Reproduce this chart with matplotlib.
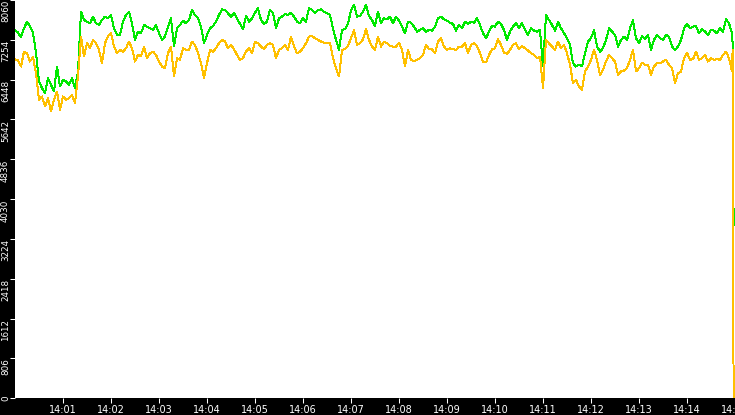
import matplotlib
matplotlib.use('Agg')
import matplotlib.pyplot as plt
import numpy as np
import pandas as pd

# values, one sample every 3.75 s from 14:00:00
green_vals = [
    7454, 7400, 7306, 7488, 7623, 7522, 7400, 6983, 6411, 6277,
    6176, 6478, 6344, 6209, 6714, 6310, 6445, 6411, 6344, 6478,
    6277, 6613, 7824, 7656, 7623, 7589, 7724, 7589, 7555, 7656,
    7724, 7690, 7757, 7488, 7353, 7353, 7623, 7757, 7824, 7589,
    7252, 7421, 7387, 7555, 7522, 7488, 7454, 7555, 7387, 7252,
    7320, 7522, 7690, 7118, 7488, 7555, 7643, 7589, 7656, 7858,
    7757, 7690, 7522, 7185, 7353, 7488, 7535, 7623, 7757, 7872,
    7858, 7791, 7724, 7791, 7690, 7575, 7468, 7737, 7623, 7690,
    7804, 7892, 7656, 7575, 7623, 7858, 7791, 7488, 7690, 7724,
    7777, 7757, 7804, 7724, 7623, 7589, 7690, 7623, 7892, 7858,
    7791, 7858, 7872, 7824, 7791, 7757, 7488, 7252, 7050, 7454,
    7468, 7575, 7858, 7959, 7724, 7737, 7824, 7959, 7737, 7656,
    7535, 7824, 7589, 7690, 7670, 7724, 7589, 7724, 7643, 7522,
    7387, 7623, 7602, 7522, 7421, 7454, 7488, 7421, 7454, 7441,
    7522, 7690, 7724, 7670, 7643, 7602, 7575, 7441, 7555, 7488,
    7623, 7575, 7623, 7602, 7690, 7555, 7387, 7286, 7421, 7535,
    7522, 7623, 7575, 7454, 7252, 7421, 7522, 7589, 7488, 7589,
    7454, 7353, 7488, 7441, 7421, 7454, 6714, 7757, 7656, 7555,
    7441, 7623, 7488, 7387, 7286, 7151, 6781, 6714, 6748, 6714,
    6983, 7219, 7286, 7454, 7118, 7017, 7084, 7252, 7488, 7421,
    7353, 7118, 7252, 7320, 7252, 7488, 7656, 7286, 7185, 7333,
    7266, 7353, 7050, 7252, 7353, 7286, 7252, 7353, 7320, 7118,
    7050, 7118, 7252, 7488, 7575, 7488, 7522, 7535, 7387, 7468,
    7421, 7353, 7454, 7441, 7387, 7488, 7421, 7670, 7589, 7387,
]
orange_vals = [
    6862, 6835, 6714, 7017, 6983, 6815, 6902, 6580, 6041, 6108,
    5906, 6075, 5805, 6041, 6209, 5839, 6108, 6041, 6075, 6142,
    5974, 6512, 7320, 6916, 7185, 7084, 7252, 7185, 7050, 6781,
    7185, 7333, 7387, 7118, 6983, 7050, 7017, 7084, 7219, 7084,
    6815, 6950, 6916, 7118, 6882, 6983, 7017, 6950, 6815, 6714,
    6680, 6983, 7118, 6512, 6882, 6849, 7084, 7050, 7050, 7219,
    7151, 6983, 6781, 6478, 6781, 7050, 7017, 7084, 7185, 7252,
    7219, 7084, 7151, 7064, 6950, 6849, 6882, 7017, 7084, 6983,
    7219, 7185, 7118, 7064, 7151, 7185, 7151, 6882, 7050, 7084,
    7151, 7050, 7320, 7118, 6983, 7017, 7084, 7185, 7320, 7333,
    7286, 7252, 7219, 7199, 7185, 7185, 6882, 6680, 6512, 7050,
    7064, 7131, 7286, 7454, 7151, 7185, 7266, 7468, 7252, 7118,
    7050, 7320, 7118, 7219, 7185, 7131, 7118, 7118, 7199, 7050,
    6714, 7050, 6849, 6815, 6849, 6882, 6950, 7151, 7064, 7064,
    6983, 7219, 7286, 7118, 7050, 7084, 7064, 7050, 7118, 7118,
    7185, 6983, 7151, 7185, 7131, 6983, 6815, 6795, 6950, 7064,
    7084, 7266, 7151, 6997, 6970, 7050, 7151, 7185, 7064, 7131,
    7084, 7037, 6983, 6950, 6882, 6916, 6277, 7252, 7185, 7118,
    7050, 7219, 7084, 7151, 6983, 6748, 6378, 6445, 6310, 6243,
    6613, 6714, 6849, 7050, 6849, 6546, 6647, 6815, 6950, 6882,
    6815, 6546, 6613, 6633, 6680, 6849, 7050, 6613, 6680, 6795,
    6748, 6748, 6546, 6714, 6781, 6781, 6815, 6849, 6748, 6680,
    6378, 6580, 6613, 6882, 6997, 6849, 6862, 7017, 6849, 6882,
    6950, 6815, 6882, 6849, 6862, 6849, 6950, 7017, 6882, 6613,
]
# last readings, just before 14:15, where both series collapse
green_tail = [7185, 3500]
orange_tail = [7050, 0]

y_max = 8060
y_step = 806

start = pd.Timestamp('2020-01-01 14:00:00')
end = pd.Timestamp('2020-01-01 14:15:00')
times = pd.date_range(start, periods=len(green_vals), freq='3750ms')
tail_times = pd.DatetimeIndex([end - pd.Timedelta(seconds=3),
                               end - pd.Timedelta(seconds=1.75)])
times = times.append(tail_times)
green = green_vals + green_tail
orange = orange_vals + orange_tail

W, H = 735, 415
fig = plt.figure(figsize=(W / 100, H / 100), dpi=100, facecolor='black')
ax = fig.add_axes([15 / W, 16.7 / H, 720 / W, 398.3 / H])
ax.set_facecolor('white')

ax.plot(times, green, color='#00e800', lw=0.72, antialiased=False)
ax.plot(times, orange, color='#ffc000', lw=0.72, antialiased=False)

ax.set_xlim(start, end)
ax.set_ylim(0, y_max)

for s in ax.spines.values():
    s.set_visible(False)

xt = pd.date_range('2020-01-01 14:01', '2020-01-01 14:15', freq='1min')
ax.set_xticks(xt)
ax.set_xticklabels([t.strftime('%H:%M') for t in xt])
yt = np.arange(0, y_max + 1, y_step)
ax.set_yticks(yt)
ax.set_yticklabels([str(v) for v in yt])

ax.tick_params(colors='white', length=3.6, width=0.75)
ax.tick_params(axis='x', labelsize=7, pad=1.5)
ax.tick_params(axis='y', labelsize=6.3, pad=0, labelrotation=90)
for i, lbl in enumerate(ax.get_yticklabels()):
    lbl.set_va('center' if i == 0 else 'top')

fig.savefig('out.png', dpi=100, facecolor='black')
